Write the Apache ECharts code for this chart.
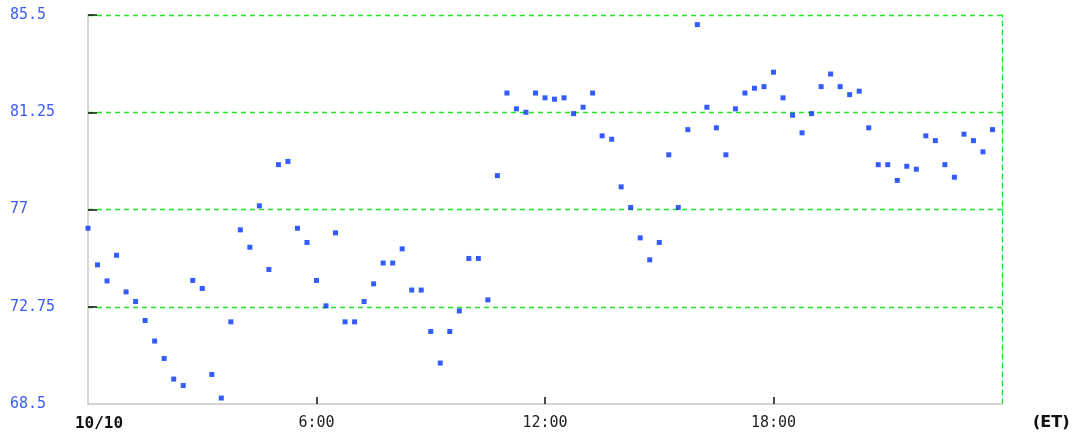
<!DOCTYPE html>
<html>
<head>
<meta charset="utf-8">
<script src="https://cdn.jsdelivr.net/npm/echarts@6/dist/echarts.min.js"></script>
<style>html,body{margin:0;padding:0;background:#fff}#c{width:1081px;height:438px}</style>
</head>
<body>
<div id="c"></div>
<script>
// time in hours since 10/10 00:00 (ET), 15-minute readings
const values = [
 76.18, 74.58, 73.88, 75.00, 73.40, 72.98, 72.15, 71.25, 70.49, 69.59,
 69.31, 73.90, 73.55, 69.79, 68.76, 72.09, 76.11, 75.35, 77.16, 74.38,
 78.96, 79.10, 76.18, 75.56, 73.90, 72.79, 75.98, 72.09, 72.09, 72.98,
 73.75, 74.66, 74.66, 75.28, 73.48, 73.48, 71.67, 70.29, 71.67, 72.57,
 74.86, 74.86, 73.05, 78.48, 82.09, 81.40, 81.25, 82.09, 81.88, 81.82,
 81.88, 81.19, 81.47, 82.09, 80.22, 80.07, 77.99, 77.09, 75.76, 74.80,
 75.56, 79.39, 77.09, 80.49, 85.08, 81.47, 80.57, 79.39, 81.40, 82.09,
 82.30, 82.37, 83.00, 81.88, 81.12, 80.35, 81.19, 82.37, 82.92, 82.37,
 82.02, 82.17, 80.57, 78.96, 78.96, 78.27, 78.89, 78.76, 80.22, 80.01,
 78.96, 78.41, 80.29, 80.01, 79.52, 80.49
];
const stepHours = 0.25;
const xTickLabels = {0: '10/10', 6: '6:00', 12: '12:00', 18: '18:00', 24: ''};
const yTicks = [68.5, 72.75, 77, 81.25, 85.5];
const xAxisName = '(ET)';

const points = values.map((v, i) => [i * stepHours, v]);
const green = '#22e622';
const chart = echarts.init(document.getElementById('c'));
chart.setOption({
  animation: false,
  grid: {left: 88, right: 79, top: 15, bottom: 34},
  xAxis: {
    type: 'value', min: 0, max: 24, interval: 6,
    name: xAxisName, nameLocation: 'end', nameGap: 31,
    nameTextStyle: {fontFamily: 'DejaVu Sans', fontWeight: 'bold', fontSize: 16, color: '#111', verticalAlign: 'top', padding: [11, 0, 0, 0]},
    axisLine: {lineStyle: {color: '#c8c8c8', width: 1.5}},
    axisTick: {inside: true, length: 7, customValues: [6, 12, 18], lineStyle: {color: '#111', width: 1.5}},
    axisLabel: {
      margin: 12, fontFamily: 'DejaVu Sans Mono', fontSize: 15, color: '#222',
      formatter: v => v === 0 ? '{b|' + xTickLabels[0] + '}' : (xTickLabels[v] || ''),
      rich: {b: {fontFamily: 'DejaVu Sans Mono', fontWeight: 'bold', fontSize: 16, color: '#111', padding: [0, 0, 0, 22]}}
    },
    splitLine: {show: false}
  },
  yAxis: [{
    type: 'value', min: yTicks[0], max: yTicks[yTicks.length - 1], interval: 4.25,
    axisLine: {show: true, lineStyle: {color: '#c8c8c8', width: 1.5}},
    axisTick: {show: true, inside: true, length: 9, customValues: yTicks.slice(1), lineStyle: {color: '#111', width: 1.5}},
    axisLabel: {
      align: 'left', margin: 78, fontFamily: 'DejaVu Sans Mono', fontSize: 15, color: '#3a5cf5',
      formatter: v => String(+v.toFixed(2))
    },
    splitLine: {show: true, lineStyle: {color: green, type: [5, 4], width: 1.3}}
  }, {
    type: 'value', min: yTicks[0], max: yTicks[yTicks.length - 1], position: 'right',
    axisLine: {show: true, lineStyle: {color: green, type: [5, 4], width: 1.3}},
    axisTick: {show: false}, axisLabel: {show: false}, splitLine: {show: false}
  }],
  series: [{
    type: 'scatter', data: points, symbol: 'rect', symbolSize: 5,
    itemStyle: {color: '#0033ff'}
  }]
});
</script>
</body>
</html>
